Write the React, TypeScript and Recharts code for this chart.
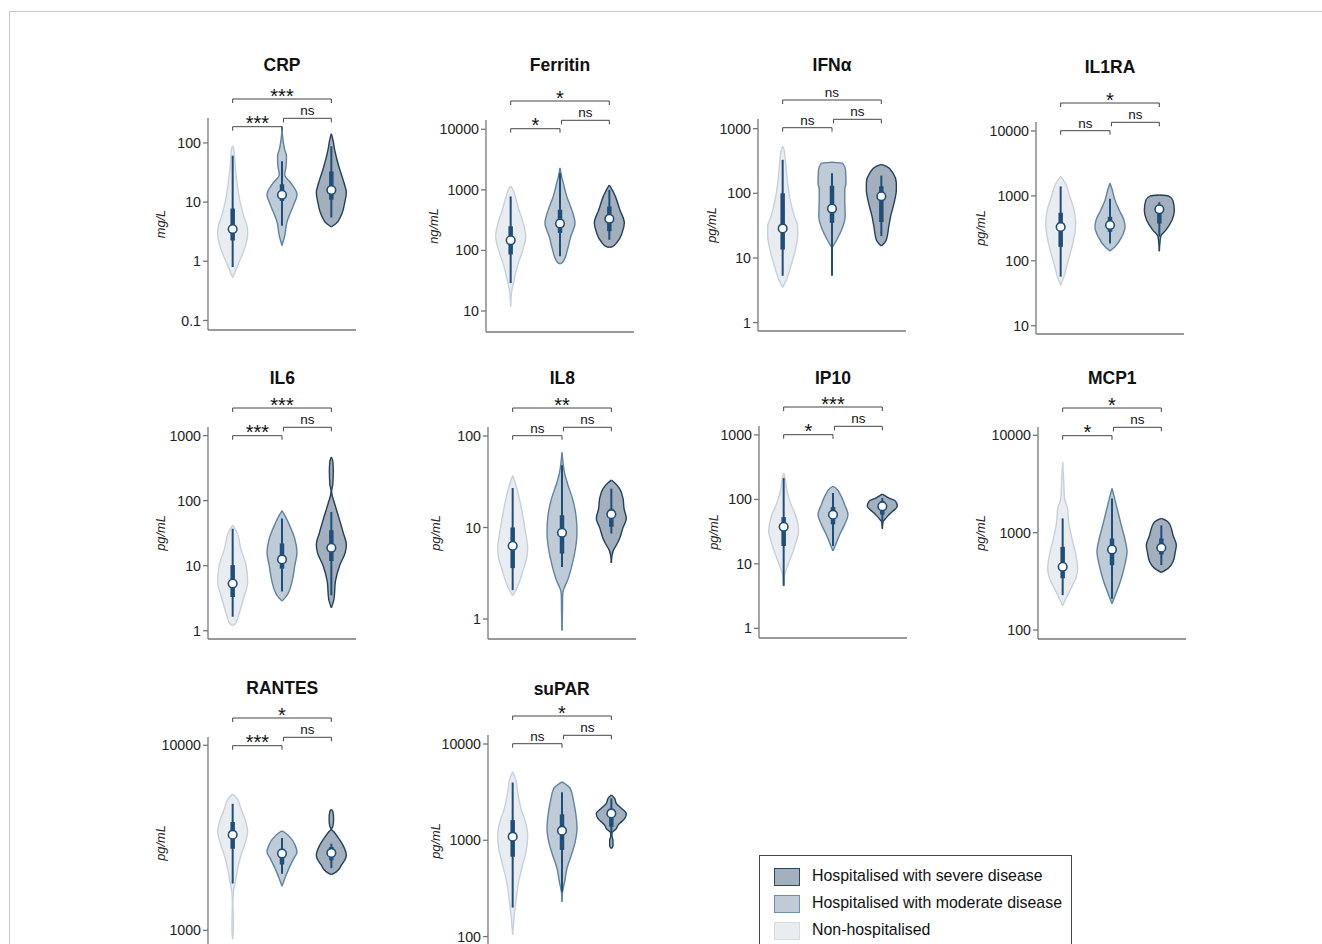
import React from "react";
import {
  Area,
  ComposedChart,
  ReferenceDot,
  ReferenceLine,
  XAxis,
  YAxis,
} from "recharts";

type Profile = [number, number][];
type Box = [number, number, number, number, number];

// violin outlines: [value, relative half-width], from bottom tip to top tip
// box stats per group: [whisker low, q1, median, q3, whisker high]

const crpNon: Profile = [[0.53, 0], [0.65, 0.15], [1, 0.45], [1.6, 0.78], [2.9, 1], [4, 0.95], [6, 0.72], [10, 0.5], [21, 0.29], [40, 0.17], [77, 0.08], [90, 0]];
const crpMod: Profile = [[1.85, 0], [2.7, 0.18], [4.6, 0.33], [8.7, 0.75], [13.5, 1], [21, 0.6], [29, 0.18], [40, 0.27], [60, 0.3], [77, 0.18], [115, 0.06], [190, 0]];
const crpSev: Profile = [[3.8, 0], [4.3, 0.3], [5.9, 0.65], [10, 0.9], [14.5, 1], [21, 0.85], [40, 0.5], [77, 0.22], [115, 0.1], [143, 0]];
const crpBox: Box[] = [[0.8, 2.25, 3.5, 7.8, 61], [4, 10.5, 13.3, 20, 49], [5.5, 11, 16, 33, 88]];
const crpSig = ["***", "ns", "***"];
const crpTicks = [0.1, 1, 10, 100];

const ferNon: Profile = [[12, 0], [22, 0.08], [30, 0.2], [55, 0.45], [100, 0.8], [170, 1], [280, 0.85], [470, 0.55], [780, 0.3], [1070, 0.1], [1150, 0]];
const ferMod: Profile = [[60, 0], [63, 0.15], [72, 0.3], [103, 0.5], [170, 0.72], [280, 1], [470, 0.78], [780, 0.45], [1300, 0.22], [1700, 0.1], [2300, 0]];
const ferSev: Profile = [[112, 0], [116, 0.2], [140, 0.55], [195, 0.85], [285, 1], [470, 0.7], [780, 0.4], [1070, 0.13], [1200, 0]];
const ferBox: Box[] = [[29, 86, 147, 250, 780], [80, 195, 277, 470, 1900], [150, 207, 333, 530, 1000]];
const ferSig = ["*", "ns", "*"];
const ferTicks = [10, 100, 1000, 10000];

const ifnNon: Profile = [[3.5, 0], [4.7, 0.27], [7.5, 0.55], [13.5, 0.85], [22, 1], [31, 1], [44, 0.78], [80, 0.5], [145, 0.33], [260, 0.22], [475, 0.09], [535, 0]];
const ifnMod: Profile = [[14.3, 0], [19.3, 0.33], [27.5, 0.65], [44, 0.88], [80, 0.85], [114, 0.85], [145, 0.93], [230, 0.9], [290, 0.72], [302, 0]];
const ifnSev: Profile = [[15.3, 0], [19, 0.33], [31, 0.5], [44, 0.62], [71, 0.85], [114, 1], [145, 1], [205, 0.78], [260, 0.35], [280, 0]];
const ifnBox: Box[] = [[5.3, 13.5, 28.6, 100, 330], [5.3, 35, 58, 131, 205], [21.8, 36, 90, 128, 188]];
const ifnSig = ["ns", "ns", "ns"];
const ifnTicks = [1, 10, 100, 1000];

const il1Non: Profile = [[42, 0], [57, 0.22], [91, 0.45], [146, 0.7], [233, 0.9], [375, 1], [600, 0.9], [960, 0.62], [1540, 0.33], [2000, 0]];
const il1Mod: Profile = [[142, 0], [164, 0.33], [233, 0.78], [333, 1], [424, 0.93], [600, 0.62], [860, 0.33], [1220, 0.16], [1570, 0]];
const il1Sev: Profile = [[140, 0], [180, 0.03], [240, 0.1], [300, 0.45], [424, 0.85], [600, 1], [860, 0.9], [1000, 0.6], [1030, 0]];
const il1Box: Box[] = [[57, 164, 333, 550, 1400], [185, 280, 355, 475, 900], [235, 375, 620, 680, 800]];
const il1Sig = ["ns", "ns", "*"];
const il1Ticks = [10, 100, 1000, 10000];

const il6Non: Profile = [[1.2, 0], [1.3, 0.2], [1.75, 0.4], [3.1, 0.72], [5.6, 1], [10, 0.9], [18, 0.55], [33, 0.27], [42, 0]];
const il6Mod: Profile = [[2.85, 0], [3.5, 0.33], [5.7, 0.67], [10, 0.85], [16, 1], [26, 0.85], [42, 0.5], [60, 0.18], [70, 0]];
const il6Sev: Profile = [[2.25, 0], [3.1, 0.18], [5.7, 0.27], [10, 0.55], [16, 0.93], [21, 1], [33, 0.78], [60, 0.45], [96, 0.18], [125, 0.04], [140, 0.02], [180, 0.1], [280, 0.13], [400, 0.1], [470, 0]];
const il6Box: Box[] = [[1.64, 3.3, 5.3, 10.2, 37], [4, 9, 12.5, 22, 53], [3.5, 11.8, 18.8, 35, 67]];
const il6Sig = ["***", "ns", "***"];
const il6Ticks = [1, 10, 100, 1000];

const il8Non: Profile = [[1.8, 0], [2.15, 0.27], [3.3, 0.67], [4.6, 0.93], [5.9, 1], [9, 0.85], [13.6, 0.67], [20.7, 0.45], [29, 0.22], [37, 0]];
const il8Mod: Profile = [[0.75, 0], [1.2, 0.03], [1.9, 0.05], [2.2, 0.15], [2.55, 0.33], [3.9, 0.67], [5.9, 0.9], [9, 1], [13.6, 0.93], [20.7, 0.7], [29, 0.4], [40, 0.16], [55, 0.05], [66, 0]];
const il8Sev: Profile = [[4.1, 0], [5, 0.05], [5.7, 0.15], [6.4, 0.33], [7.6, 0.55], [10, 0.78], [12.5, 1], [16, 0.85], [20.7, 0.78], [26.6, 0.55], [31, 0.2], [33, 0]];
const il8Box: Box[] = [[2.07, 3.6, 6.3, 10, 27], [3.7, 5.2, 8.76, 13.6, 48], [8.6, 10.2, 14, 16, 26.6]];
const il8Sig = ["ns", "ns", "**"];
const il8Ticks = [1, 10, 100];

const ip10Non: Profile = [[4.5, 0], [6.5, 0.05], [8.7, 0.22], [14, 0.55], [22.6, 0.85], [32, 1], [52, 0.85], [83, 0.5], [133, 0.22], [214, 0.09], [256, 0]];
const ip10Mod: Profile = [[15.8, 0], [20, 0.18], [28.6, 0.45], [41, 0.78], [58, 1], [83, 0.78], [118, 0.5], [150, 0.18], [160, 0]];
const ip10Sev: Profile = [[35, 0], [45, 0.05], [50, 0.2], [55, 0.35], [65, 0.67], [78, 1], [94, 0.88], [105, 0.45], [121, 0]];
const ip10Box: Box[] = [[4.56, 18.9, 37.5, 53, 214], [18.9, 41, 58, 76, 126], [46, 58, 78, 94, 105]];
const ip10Sig = ["*", "ns", "***"];
const ip10Ticks = [1, 10, 100, 1000];

const mcpNon: Profile = [[178, 0], [211, 0.22], [267, 0.55], [340, 0.88], [430, 1], [590, 0.88], [870, 0.62], [1290, 0.4], [1770, 0.33], [2240, 0.13], [3600, 0.06], [5300, 0]];
const mcpMod: Profile = [[186, 0], [228, 0.22], [313, 0.55], [464, 0.85], [636, 1], [871, 0.85], [1190, 0.62], [1630, 0.4], [2240, 0.18], [2840, 0]];
const mcpSev: Profile = [[390, 0], [430, 0.45], [502, 0.78], [636, 0.93], [743, 1], [940, 0.78], [1100, 0.67], [1290, 0.45], [1400, 0]];
const mcpBox: Box[] = [[228, 340, 446, 715, 1400], [210, 464, 670, 871, 2240], [464, 597, 700, 870, 1190]];
const mcpSig = ["*", "ns", "*"];
const mcpTicks = [100, 1000, 10000];

const ranNon: Profile = [[900, 0], [1000, 0.05], [1200, 0.04], [1400, 0.02], [1600, 0.05], [1830, 0.18], [2150, 0.33], [2540, 0.55], [3000, 0.85], [3400, 1], [3850, 0.88], [4550, 0.55], [5150, 0.3], [5450, 0]];
const ranMod: Profile = [[1730, 0], [1900, 0.18], [2150, 0.45], [2440, 0.78], [2650, 1], [2880, 0.88], [3130, 0.62], [3350, 0.25], [3450, 0]];
const ranSev: Profile = [[2000, 0], [2070, 0.33], [2250, 0.67], [2540, 1], [2880, 0.78], [3130, 0.5], [3400, 0.18], [3520, 0.02], [3650, 0.1], [4000, 0.15], [4400, 0.1], [4500, 0]];
const ranBox: Box[] = [[1790, 2760, 3290, 3850, 4830], [2020, 2270, 2600, 2760, 3160], [2170, 2390, 2620, 2820, 2940]];
const ranSig = ["***", "ns", "*"];
const ranTicks = [1000, 10000];

const suNon: Profile = [[105, 0], [130, 0.05], [168, 0.11], [231, 0.22], [372, 0.4], [555, 0.67], [825, 0.93], [1130, 1], [1560, 0.85], [2150, 0.55], [3200, 0.33], [4400, 0.18], [5150, 0]];
const suMod: Profile = [[230, 0], [293, 0.04], [372, 0.18], [510, 0.33], [700, 0.62], [965, 0.88], [1330, 1], [1830, 0.93], [2500, 0.78], [3460, 0.55], [4050, 0]];
const suSev: Profile = [[820, 0], [880, 0.11], [1000, 0.11], [1100, 0.04], [1200, 0.05], [1300, 0.3], [1440, 0.45], [1690, 0.9], [1900, 1], [2150, 0.67], [2420, 0.33], [2730, 0.22], [2950, 0]];
const suBox: Box[] = [[200, 675, 1090, 1620, 3980], [293, 795, 1260, 1860, 3160], [1180, 1380, 1900, 1970, 2730]];
const suSig = ["ns", "ns", "*"];
const suTicks = [100, 1000, 10000];

const legendLabels = [
  "Hospitalised with severe disease",
  "Hospitalised with moderate disease",
  "Non-hospitalised",
];

const GROUPS = [
  { fill: "#e9edf1", stroke: "#c7d1db" },
  { fill: "#bfccd8", stroke: "#5f83a3" },
  { fill: "#a3afbc", stroke: "#22405b" },
];
const CENTERS = [0.5, 1.5, 2.5];
const HALF = 0.304;
const PLOT_W = 148;
const PLOT_H = 212;
const AXIS_W = 70;
const TOP = 50;
const AXIS = "#777";
const INNER = "#1f4e79";

const panels = [
  { name: "CRP", unit: "mg/L", x: 208, top: 118, titleY: 65, labelOff: 48, domain: [0.069, 264], ticks: crpTicks, violins: [crpNon, crpMod, crpSev], box: crpBox, sig: crpSig },
  { name: "Ferritin", unit: "ng/mL", x: 486, top: 120, titleY: 65, labelOff: 53, domain: [4.5, 14230], ticks: ferTicks, violins: [ferNon, ferMod, ferSev], box: ferBox, sig: ferSig },
  { name: "IFNα", unit: "pg/mL", x: 758, top: 119.3, titleY: 65, labelOff: 46.5, domain: [0.742, 1411], ticks: ifnTicks, violins: [ifnNon, ifnMod, ifnSev], box: ifnBox, sig: ifnSig },
  { name: "IL1RA", unit: "pg/mL", x: 1036, top: 121.7, titleY: 66.5, labelOff: 56, domain: [7.45, 13750], ticks: il1Ticks, violins: [il1Non, il1Mod, il1Sev], box: il1Box, sig: il1Sig },
  { name: "IL6", unit: "pg/mL", x: 208.3, top: 426.7, titleY: 378.3, labelOff: 48, domain: [0.746, 1356], ticks: il6Ticks, violins: [il6Non, il6Mod, il6Sev], box: il6Box, sig: il6Sig },
  { name: "IL8", unit: "pg/mL", x: 488.3, top: 426.7, titleY: 378.3, labelOff: 53, domain: [0.605, 125.4], ticks: il8Ticks, violins: [il8Non, il8Mod, il8Sev], box: il8Box, sig: il8Sig },
  { name: "IP10", unit: "pg/mL", x: 759, top: 426, titleY: 378, labelOff: 45.7, domain: [0.708, 1377], ticks: ip10Ticks, violins: [ip10Non, ip10Mod, ip10Sev], box: ip10Box, sig: ip10Sig },
  { name: "MCP1", unit: "pg/mL", x: 1038.3, top: 426.7, titleY: 378.3, labelOff: 58, domain: [80.9, 12170], ticks: mcpTicks, violins: [mcpNon, mcpMod, mcpSev], box: mcpBox, sig: mcpSig },
  { name: "RANTES", unit: "pg/mL", x: 208.3, top: 736.7, titleY: 688.3, labelOff: 48, domain: [793, 11090], ticks: ranTicks, violins: [ranNon, ranMod, ranSev], box: ranBox, sig: ranSig },
  { name: "suPAR", unit: "pg/mL", x: 487.7, top: 735, titleY: 689, labelOff: 52.7, domain: [78, 12400], ticks: suTicks, violins: [suNon, suMod, suSev], box: suBox, sig: suSig },
];

type PanelDef = (typeof panels)[number];

function violinRows(profile: Profile, c: number) {
  return profile.map(([v, w]) => ({ v, r: [c - w * HALF, c + w * HALF] }));
}

function Panel({ p }: { p: PanelDef }) {
  const [lo, hi] = p.domain;
  const span = Math.log10(hi) - Math.log10(lo);
  // value at a pixel offset below the top of the axis
  const yAt = (px: number) => 10 ** (Math.log10(hi) - (px / PLOT_H) * span);

  const brackets = [
    { a: CENTERS[0], b: CENTERS[1], px: 8.7, text: p.sig[0] },
    { a: CENTERS[1] + 0.03, b: CENTERS[2], px: 0.3, text: p.sig[1] },
    { a: CENTERS[0], b: CENTERS[2], px: -19, text: p.sig[2] },
  ];

  return (
    <>
      <div
        style={{
          position: "absolute",
          left: p.x + PLOT_W / 2 - 80,
          width: 160,
          top: p.titleY - 11,
          height: 22,
          lineHeight: "22px",
          textAlign: "center",
          fontWeight: 700,
          fontSize: 17.5,
          color: "#111",
        }}
      >
        {p.name}
      </div>
      <div style={{ position: "absolute", left: p.x - AXIS_W, top: p.top - TOP }}>
        <ComposedChart
          layout="vertical"
          width={AXIS_W + PLOT_W + 12}
          height={TOP + PLOT_H + 1 + 5}
          margin={{ top: TOP, right: 12, bottom: 5, left: 0 }}
        >
          <XAxis
            type="number"
            domain={[0, 3]}
            allowDataOverflow
            tick={false}
            tickLine={false}
            height={1}
            axisLine={{ stroke: AXIS, strokeWidth: 1.3 }}
          />
          <YAxis
            type="number"
            dataKey="v"
            scale="log"
            domain={p.domain}
            reversed
            allowDataOverflow
            ticks={p.ticks}
            interval={0}
            width={AXIS_W}
            tickSize={5}
            tickMargin={2}
            tick={{ fill: "#222", fontSize: 14.2 }}
            tickLine={{ stroke: AXIS, strokeWidth: 1.3 }}
            axisLine={{ stroke: AXIS, strokeWidth: 1.3 }}
            tickFormatter={(t: number) => String(t)}
            label={{
              value: p.unit,
              angle: -90,
              position: "center",
              dx: AXIS_W / 2 - p.labelOff,
              fontSize: 12.8,
              fontStyle: "italic",
              fill: "#222",
            }}
          />
          {p.violins.map((prof, i) => (
            <Area
              key={`v${i}`}
              data={violinRows(prof, CENTERS[i])}
              dataKey="r"
              type="monotone"
              fill={GROUPS[i].fill}
              fillOpacity={1}
              stroke={GROUPS[i].stroke}
              strokeWidth={1.4}
              dot={false}
              activeDot={false}
              isAnimationActive={false}
            />
          ))}
          {p.box.map((b, i) => (
            <ReferenceLine
              key={`w${i}`}
              segment={[{ x: CENTERS[i], y: b[0] }, { x: CENTERS[i], y: b[4] }]}
              stroke={INNER}
              strokeWidth={2}
            />
          ))}
          {p.box.map((b, i) => (
            <ReferenceLine
              key={`b${i}`}
              segment={[{ x: CENTERS[i], y: b[1] }, { x: CENTERS[i], y: b[3] }]}
              stroke={INNER}
              strokeWidth={4.5}
            />
          ))}
          {p.box.map((b, i) => (
            <ReferenceDot
              key={`m${i}`}
              x={CENTERS[i]}
              y={b[2]}
              r={4.3}
              fill="#fff"
              stroke={INNER}
              strokeWidth={1.6}
            />
          ))}
          {brackets.flatMap((br, i) => [
            <ReferenceLine
              key={`s${i}`}
              segment={[{ x: br.a, y: yAt(br.px) }, { x: br.b, y: yAt(br.px) }]}
              stroke="#444"
              strokeWidth={1}
              ifOverflow="visible"
              label={{
                value: br.text,
                position: "top",
                offset: br.text === "ns" ? 3 : -3.5,
                fontSize: br.text === "ns" ? 13.5 : 20,
                fill: "#111",
              }}
            />,
            <ReferenceLine
              key={`l${i}`}
              segment={[{ x: br.a, y: yAt(br.px) }, { x: br.a, y: yAt(br.px + 4) }]}
              stroke="#444"
              strokeWidth={1}
              ifOverflow="visible"
            />,
            <ReferenceLine
              key={`r${i}`}
              segment={[{ x: br.b, y: yAt(br.px) }, { x: br.b, y: yAt(br.px + 4) }]}
              stroke="#444"
              strokeWidth={1}
              ifOverflow="visible"
            />,
          ])}
        </ComposedChart>
      </div>
    </>
  );
}

const swatches = [
  { fill: "#a4b0bc", stroke: "#2c4760" },
  { fill: "#bfccd8", stroke: "#6c8eab" },
  { fill: "#e9edf0", stroke: "#d4dbe2" },
];

export default function App() {
  return (
    <div
      style={{
        position: "fixed",
        left: 0,
        top: 0,
        width: 1322,
        height: 944,
        overflow: "hidden",
        background: "#fff",
        fontFamily: '"Liberation Sans", Arial, Helvetica, sans-serif',
      }}
    >
      <div
        style={{
          position: "absolute",
          left: 9,
          top: 11,
          width: 1330,
          height: 960,
          borderTop: "1px solid #c8c8c8",
          borderLeft: "1px solid #c8c8c8",
        }}
      />
      {panels.map((p) => (
        <Panel key={p.name} p={p} />
      ))}
      <div
        style={{
          position: "absolute",
          left: 759,
          top: 855,
          width: 313,
          height: 110,
          border: "1px solid #444",
          boxSizing: "border-box",
        }}
      >
        {legendLabels.map((label, i) => (
          <div key={label}>
            <div
              style={{
                position: "absolute",
                left: 14,
                top: 11.5 + i * 27,
                width: 26,
                height: 18,
                boxSizing: "border-box",
                background: swatches[i].fill,
                border: `1.5px solid ${swatches[i].stroke}`,
              }}
            />
            <div
              style={{
                position: "absolute",
                left: 52,
                top: 10 + i * 27,
                height: 20,
                lineHeight: "20px",
                fontSize: 15.9,
                color: "#111",
                whiteSpace: "nowrap",
              }}
            >
              {label}
            </div>
          </div>
        ))}
      </div>
    </div>
  );
}
